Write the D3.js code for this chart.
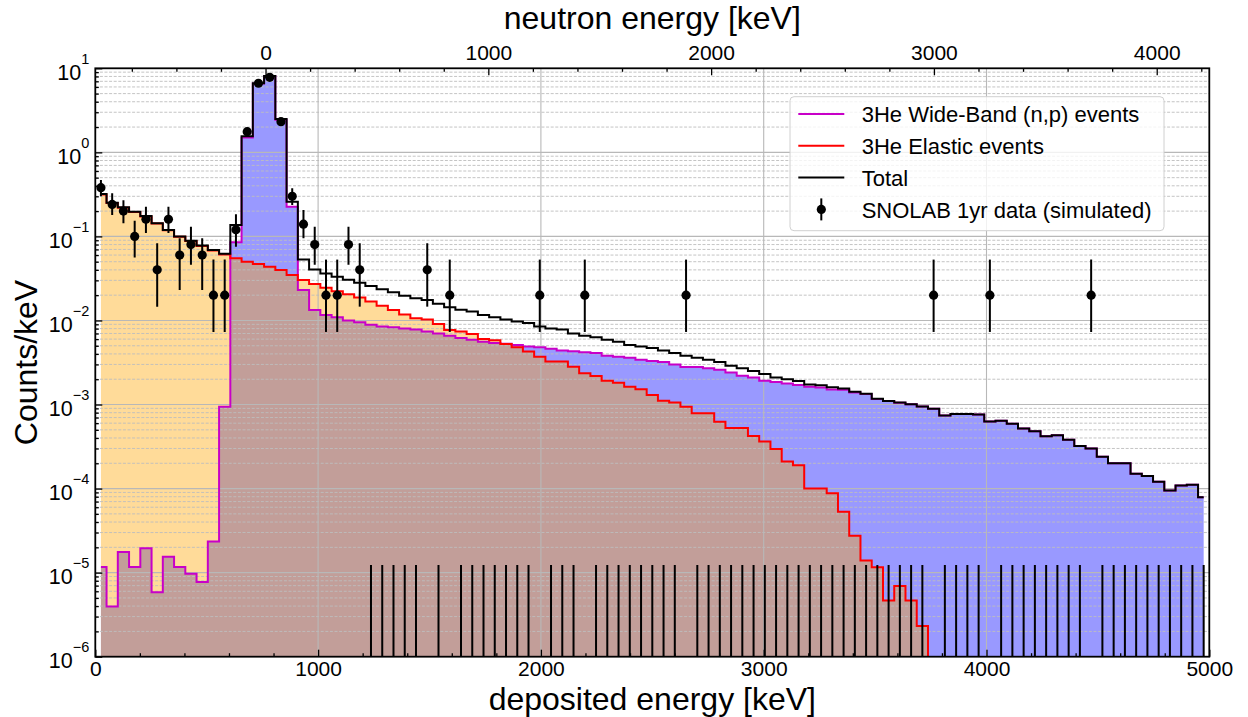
<!DOCTYPE html>
<html>
<head>
<meta charset="utf-8">
<script src="https://cdn.jsdelivr.net/npm/d3@7"></script>
<style>
  body { margin: 0; background: #fff; }
  svg { font-family: "Liberation Sans", Arial, sans-serif; }
</style>
</head>
<body>
<svg width="1248" height="717"></svg>
<script>
// binning: 99 bins between 0 and 5000 keV deposited energy
const nBins = 99, eMax = 5000;
const qValue = 764; // neutron energy = deposited - Q

// Counts/keV per bin
const wideBand = [
  1.17e-5, 3.95e-6, 1.76e-5, 1.17e-5, 1.95e-5, 5.85e-6, 1.55e-5, 1.17e-5, 9.7e-6, 7.76e-6,
  2.34e-5, 9.4e-4, 0.085, 1.5, 6.58, 8.05, 2.45, 0.226, 0.0231, 0.0133,
  0.0116, 0.0109, 0.0100, 0.0095, 0.0089, 0.0085, 0.0083, 0.0080, 0.0078, 0.0074,
  0.0070, 0.0066, 0.0062, 0.0059, 0.0056, 0.0054, 0.0053, 0.0051, 0.0049, 0.0048,
  0.0046, 0.0044, 0.0043, 0.0042, 0.0041, 0.0038, 0.0037, 0.0036, 0.0034, 0.0033,
  0.0032, 0.0030, 0.0028, 0.0028, 0.0027, 0.0026, 0.0024, 0.0022, 0.0021, 0.00192,
  0.00185, 0.00178, 0.00171, 0.00163, 0.00159, 0.00151, 0.00150, 0.00139, 0.00133, 0.00116,
  0.00110, 0.00105, 0.00101, 0.00095, 0.00089, 0.00074, 0.00077, 0.00077, 0.00076, 0.00063,
  0.00064, 0.00059, 0.00052, 0.00048, 0.00042, 0.00043, 0.00038, 0.00032, 0.00030, 0.00024,
  0.00020, 0.00020, 1.50e-4, 1.41e-4, 1.21e-4, 9.5e-5, 1.09e-4, 1.11e-4, 7.9e-5
];

const elastic = [
  0.315, 0.25, 0.22, 0.195, 0.173, 0.142, 0.118, 0.099, 0.088, 0.077,
  0.068, 0.061, 0.055, 0.050, 0.047, 0.0436, 0.0398, 0.0347, 0.0303, 0.0272,
  0.0245, 0.0222, 0.0205, 0.0187, 0.0168, 0.0150, 0.0133, 0.0118, 0.0106, 0.0103,
  0.0091, 0.0077, 0.0074, 0.0069, 0.0060, 0.0058, 0.00526, 0.0048, 0.00426, 0.0037,
  0.00324, 0.00324, 0.00282, 0.00235, 0.00219, 0.00192, 0.00182, 0.00163, 0.00152, 0.0013,
  0.00111, 0.00106, 0.00094, 0.00079, 0.00079, 6.25e-4, 5.24e-4, 5.24e-4, 4.23e-4, 3.63e-4,
  2.95e-4, 2.1e-4, 1.9e-4, 1.0e-4, 1.0e-4, 8.8e-5, 5.3e-5, 2.75e-5, 1.39e-5, 1.16e-5,
  4.67e-6, 6.95e-6, 4.67e-6, 2.32e-6, 0, 0, 0, 0, 0, 0,
  0, 0, 0, 0, 0, 0, 0, 0, 0, 0,
  0, 0, 0, 0, 0, 0, 0, 0, 0
];

const total = [
  0.319, 0.252, 0.222, 0.197, 0.175, 0.143, 0.119, 0.100, 0.089, 0.078,
  0.069, 0.062, 0.137, 1.55, 6.63, 8.1, 2.49, 0.259, 0.053, 0.0405,
  0.0361, 0.0331, 0.0305, 0.0282, 0.0257, 0.0235, 0.0216, 0.0197, 0.0184, 0.0175,
  0.0158, 0.0144, 0.0134, 0.0128, 0.0116, 0.0109, 0.0103, 0.0097, 0.0093, 0.0085,
  0.0080, 0.0078, 0.0070, 0.0066, 0.0063, 0.0059, 0.0056, 0.0051, 0.0049, 0.0047,
  0.0044, 0.0041, 0.0038, 0.0036, 0.0034, 0.0032, 0.0029, 0.0027, 0.0025, 0.0023,
  0.0021, 0.0020, 0.0019, 0.00173, 0.00169, 0.00160, 0.00155, 0.00142, 0.00134, 0.00117,
  0.00110, 0.00106, 0.00101, 0.00095, 0.00089, 0.00074, 0.00077, 0.00077, 0.00076, 0.00063,
  0.00064, 0.00059, 0.00052, 0.00048, 0.00042, 0.00043, 0.00038, 0.00032, 0.00030, 0.00024,
  0.00020, 0.00020, 1.50e-4, 1.41e-4, 1.21e-4, 9.5e-5, 1.09e-4, 1.11e-4, 7.9e-5
];

// simulated data points and their error bar ends
const e0 = 1.23e-5; // upper bar of the empty bins
const dataVal = [
  0.38, 0.24, 0.20, 0.10, 0.16, 0.04, 0.16, 0.06, 0.08, 0.06,
  0.02, 0.02, 0.12, 1.76, 6.64, 7.82, 2.32, 0.30, 0.14, 0.08,
  0.02, 0.02, 0.08, 0.04, 0, 0, 0, 0, 0, 0.04,
  0, 0.02, 0, 0, 0, 0, 0, 0, 0, 0.02,
  0, 0, 0, 0.02, 0, 0, 0, 0, 0, 0,
  0, 0, 0.02, 0, 0, 0, 0, 0, 0, 0,
  0, 0, 0, 0, 0, 0, 0, 0, 0, 0,
  0, 0, 0, 0, 0.02, 0, 0, 0, 0, 0.02,
  0, 0, 0, 0, 0, 0, 0, 0, 0.02, 0,
  0, 0, 0, 0, 0, 0, 0, 0, 0
];
const dataLo = [
  0.30, 0.18, 0.143, 0.056, 0.11, 0.0146, 0.11, 0.023, 0.046, 0.023,
  0.0073, 0.0073, 0.0755, 1.58, 6.28, 7.43, 2.11, 0.237, 0.095, 0.046,
  0.0073, 0.0073, 0.046, 0.0146, 0, 0, 0, 0, 0, 0.0146,
  0, 0.0073, 0, 0, 0, 0, 0, 0, 0, 0.0073,
  0, 0, 0, 0.0073, 0, 0, 0, 0, 0, 0,
  0, 0, 0.0073, 0, 0, 0, 0, 0, 0, 0,
  0, 0, 0, 0, 0, 0, 0, 0, 0, 0,
  0, 0, 0, 0, 0.0073, 0, 0, 0, 0, 0.0073,
  0, 0, 0, 0, 0, 0, 0, 0, 0.0073, 0,
  0, 0, 0, 0, 0, 0, 0, 0, 0
];
const dataHi = [
  0.47, 0.326, 0.27, 0.154, 0.226, 0.083, 0.226, 0.095, 0.13, 0.095,
  0.053, 0.053, 0.183, 1.96, 7.01, 8.22, 2.56, 0.374, 0.206, 0.13,
  0.053, 0.053, 0.13, 0.083, e0, e0, e0, e0, e0, 0.083,
  e0, 0.053, e0, e0, e0, e0, e0, e0, e0, 0.053,
  e0, e0, e0, 0.053, e0, e0, e0, e0, e0, e0,
  e0, e0, 0.053, e0, e0, e0, e0, e0, e0, e0,
  e0, e0, e0, e0, e0, e0, e0, e0, e0, e0,
  e0, e0, e0, e0, 0.053, e0, e0, e0, e0, 0.053,
  e0, e0, e0, e0, e0, e0, e0, e0, 0.053, e0,
  e0, e0, e0, e0, e0, e0, e0, e0, e0
];

const xTicks = [0, 1000, 2000, 3000, 4000, 5000];
const xTopTicks = [0, 1000, 2000, 3000, 4000];
const yExps = [-6, -5, -4, -3, -2, -1, 0, 1];
const legendItems = [
  { label: "3He Wide-Band (n,p) events", color: "#c800c8", type: "line" },
  { label: "3He Elastic events", color: "#ff0000", type: "line" },
  { label: "Total", color: "#000000", type: "line" },
  { label: "SNOLAB 1yr data (simulated)", color: "#000000", type: "err" }
];

const margin = { top: 68.3, left: 95.3 },
      width = 1114,
      height = 588.4;

const svg = d3.select("svg");
const g = svg.append("g").attr("transform", `translate(${margin.left},${margin.top})`);

const centers = d3.range(nBins).map(i => (i + 0.5) * eMax / nBins);

// Scales
const x = d3.scaleLinear().domain([0, eMax]).range([0, width]);
const xTop = d3.scaleLinear().domain([-qValue, eMax - qValue]).range([0, width]);
const y = d3.scaleLog().domain([1e-6, 10]).range([height, 0]);
const yv = v => v > 0 ? y(v) : height + 20;

g.append("clipPath").attr("id", "plot")
  .append("rect").attr("width", width).attr("height", height);

// Fills (step, mid)
const area = vals => d3.area()
  .curve(d3.curveStep)
  .x((d, i) => x(centers[i]))
  .y0(height)
  .y1((d, i) => yv(vals[i]))(vals);

const plot = g.append("g").attr("clip-path", "url(#plot)");

plot.append("path").attr("d", area(wideBand)).attr("fill", "blue").attr("fill-opacity", 0.4);
plot.append("path").attr("d", area(elastic)).attr("fill", "orange").attr("fill-opacity", 0.4);

// Gridlines
const minorY = [];
yExps.slice(0, -1).forEach(k => d3.range(2, 10).forEach(m => minorY.push(m * 10 ** k)));

plot.append("g").selectAll("line").data(minorY).enter().append("line")
  .attr("x1", 0).attr("x2", width)
  .attr("y1", d => y(d)).attr("y2", d => y(d))
  .attr("stroke", "#bdbdbd").attr("stroke-width", 0.9)
  .attr("stroke-dasharray", "3,1.6");

plot.append("g").selectAll("line").data(yExps.slice(1, -1)).enter().append("line")
  .attr("x1", 0).attr("x2", width)
  .attr("y1", d => y(10 ** d)).attr("y2", d => y(10 ** d))
  .attr("stroke", "#b8b8b8").attr("stroke-width", 1.1);

plot.append("g").selectAll("line").data(xTicks.slice(1, -1)).enter().append("line")
  .attr("x1", d => x(d)).attr("x2", d => x(d))
  .attr("y1", 0).attr("y2", height)
  .attr("stroke", "#b8b8b8").attr("stroke-width", 1.1);

// Step lines
const line = vals => d3.line()
  .curve(d3.curveStep)
  .x((d, i) => x(centers[i]))
  .y((d, i) => yv(vals[i]))(vals);

plot.append("path").attr("d", line(wideBand)).attr("fill", "none")
  .attr("stroke", "#c800c8").attr("stroke-width", 2);
plot.append("path").attr("d", line(elastic)).attr("fill", "none")
  .attr("stroke", "#ff0000").attr("stroke-width", 2);
plot.append("path").attr("d", line(total)).attr("fill", "none")
  .attr("stroke", "#000").attr("stroke-width", 2);

// Data with error bars
const pts = centers.map((c, i) => ({ c, v: dataVal[i], lo: dataLo[i], hi: dataHi[i] }));

plot.append("g").selectAll("line").data(pts).enter().append("line")
  .attr("x1", d => x(d.c)).attr("x2", d => x(d.c))
  .attr("y1", d => yv(d.lo)).attr("y2", d => y(d.hi))
  .attr("stroke", "#000").attr("stroke-width", 2);

plot.append("g").selectAll("circle").data(pts.filter(d => d.v > 0)).enter().append("circle")
  .attr("cx", d => x(d.c)).attr("cy", d => y(d.v))
  .attr("r", 4.6).attr("fill", "#000");

// Axes (ticks inward)
const tickStyle = sel => {
  sel.select(".domain").remove();
  sel.selectAll(".tick line").attr("stroke-width", 1.3);
  sel.selectAll("text").style("font-size", "21px").attr("fill", "#000");
};

const fmt = d3.format("d");
const minorX = d3.range(200, eMax, 200).filter(d => d % 1000 !== 0);
const minorXTop = d3.range(-600, eMax - qValue, 200).filter(d => d % 1000 !== 0);

g.append("g").attr("transform", `translate(0,${height})`)
  .call(d3.axisBottom(x).tickValues(xTicks).tickFormat(fmt)
    .tickSize(-7).tickSizeOuter(0).tickPadding(4.5))
  .call(tickStyle);
g.append("g").attr("transform", `translate(0,${height})`)
  .call(d3.axisBottom(x).tickValues(minorX).tickSize(-3.5).tickSizeOuter(0).tickFormat(""))
  .call(tickStyle);

g.append("g")
  .call(d3.axisTop(xTop).tickValues(xTopTicks).tickFormat(fmt)
    .tickSize(-7).tickSizeOuter(0).tickPadding(8.3))
  .call(tickStyle);
g.append("g")
  .call(d3.axisTop(xTop).tickValues(minorXTop).tickSize(-3.5).tickSizeOuter(0).tickFormat(""))
  .call(tickStyle);

g.append("g")
  .call(d3.axisLeft(y).tickValues(yExps.map(k => 10 ** k)).tickSize(-7).tickSizeOuter(0).tickFormat(""))
  .call(tickStyle);
g.append("g")
  .call(d3.axisLeft(y).tickValues(minorY).tickSize(-3.5).tickSizeOuter(0).tickFormat(""))
  .call(tickStyle);

// Y tick labels 10^k
const yLab = g.append("g").selectAll("text").data(yExps).enter().append("text")
  .attr("x", -6)
  .attr("y", d => y(10 ** d) + 11.7)
  .attr("text-anchor", "end")
  .style("font-size", "21.5px");
yLab.append("tspan").text("10");
yLab.append("tspan")
  .attr("dy", -16.5)
  .style("font-size", "14.5px")
  .text(d => (d < 0 ? "\u2212" : "") + Math.abs(d));

// Frame
g.append("rect").attr("width", width).attr("height", height)
  .attr("fill", "none").attr("stroke", "#000").attr("stroke-width", 1.8);

// Axis titles
svg.append("text")
  .attr("x", margin.left + width / 2).attr("y", 709.5)
  .attr("text-anchor", "middle").style("font-size", "32px")
  .text("deposited energy [keV]");

svg.append("text")
  .attr("x", margin.left + width / 2).attr("y", 29)
  .attr("text-anchor", "middle").style("font-size", "32px")
  .text("neutron energy [keV]");

svg.append("text")
  .attr("transform", `translate(37,${margin.top + height / 2}) rotate(-90)`)
  .attr("text-anchor", "middle").style("font-size", "32px")
  .text("Counts/keV");

// Legend
const legend = svg.append("g").attr("transform", "translate(790,96.7)");
legend.append("rect")
  .attr("width", 374).attr("height", 134).attr("rx", 4)
  .attr("fill", "#fff").attr("fill-opacity", 0.8)
  .attr("stroke", "#d0d0d0").attr("stroke-width", 1);

const rows = legend.selectAll(".row").data(legendItems).enter().append("g")
  .attr("class", "row")
  .attr("transform", (d, i) => `translate(0,${17.3 + i * 31.8})`);

rows.filter(d => d.type === "line").append("line")
  .attr("x1", 8.3).attr("x2", 54.3)
  .attr("stroke", d => d.color).attr("stroke-width", 2);

const errRow = rows.filter(d => d.type === "err");
errRow.append("line")
  .attr("x1", 31.3).attr("x2", 31.3).attr("y1", -11).attr("y2", 11)
  .attr("stroke", "#000").attr("stroke-width", 2);
errRow.append("circle").attr("cx", 31.3).attr("r", 4.6).attr("fill", "#000");

rows.append("text")
  .attr("x", 71.7).attr("y", 8.4)
  .style("font-size", "22px")
  .text(d => d.label);
</script>
</body>
</html>
